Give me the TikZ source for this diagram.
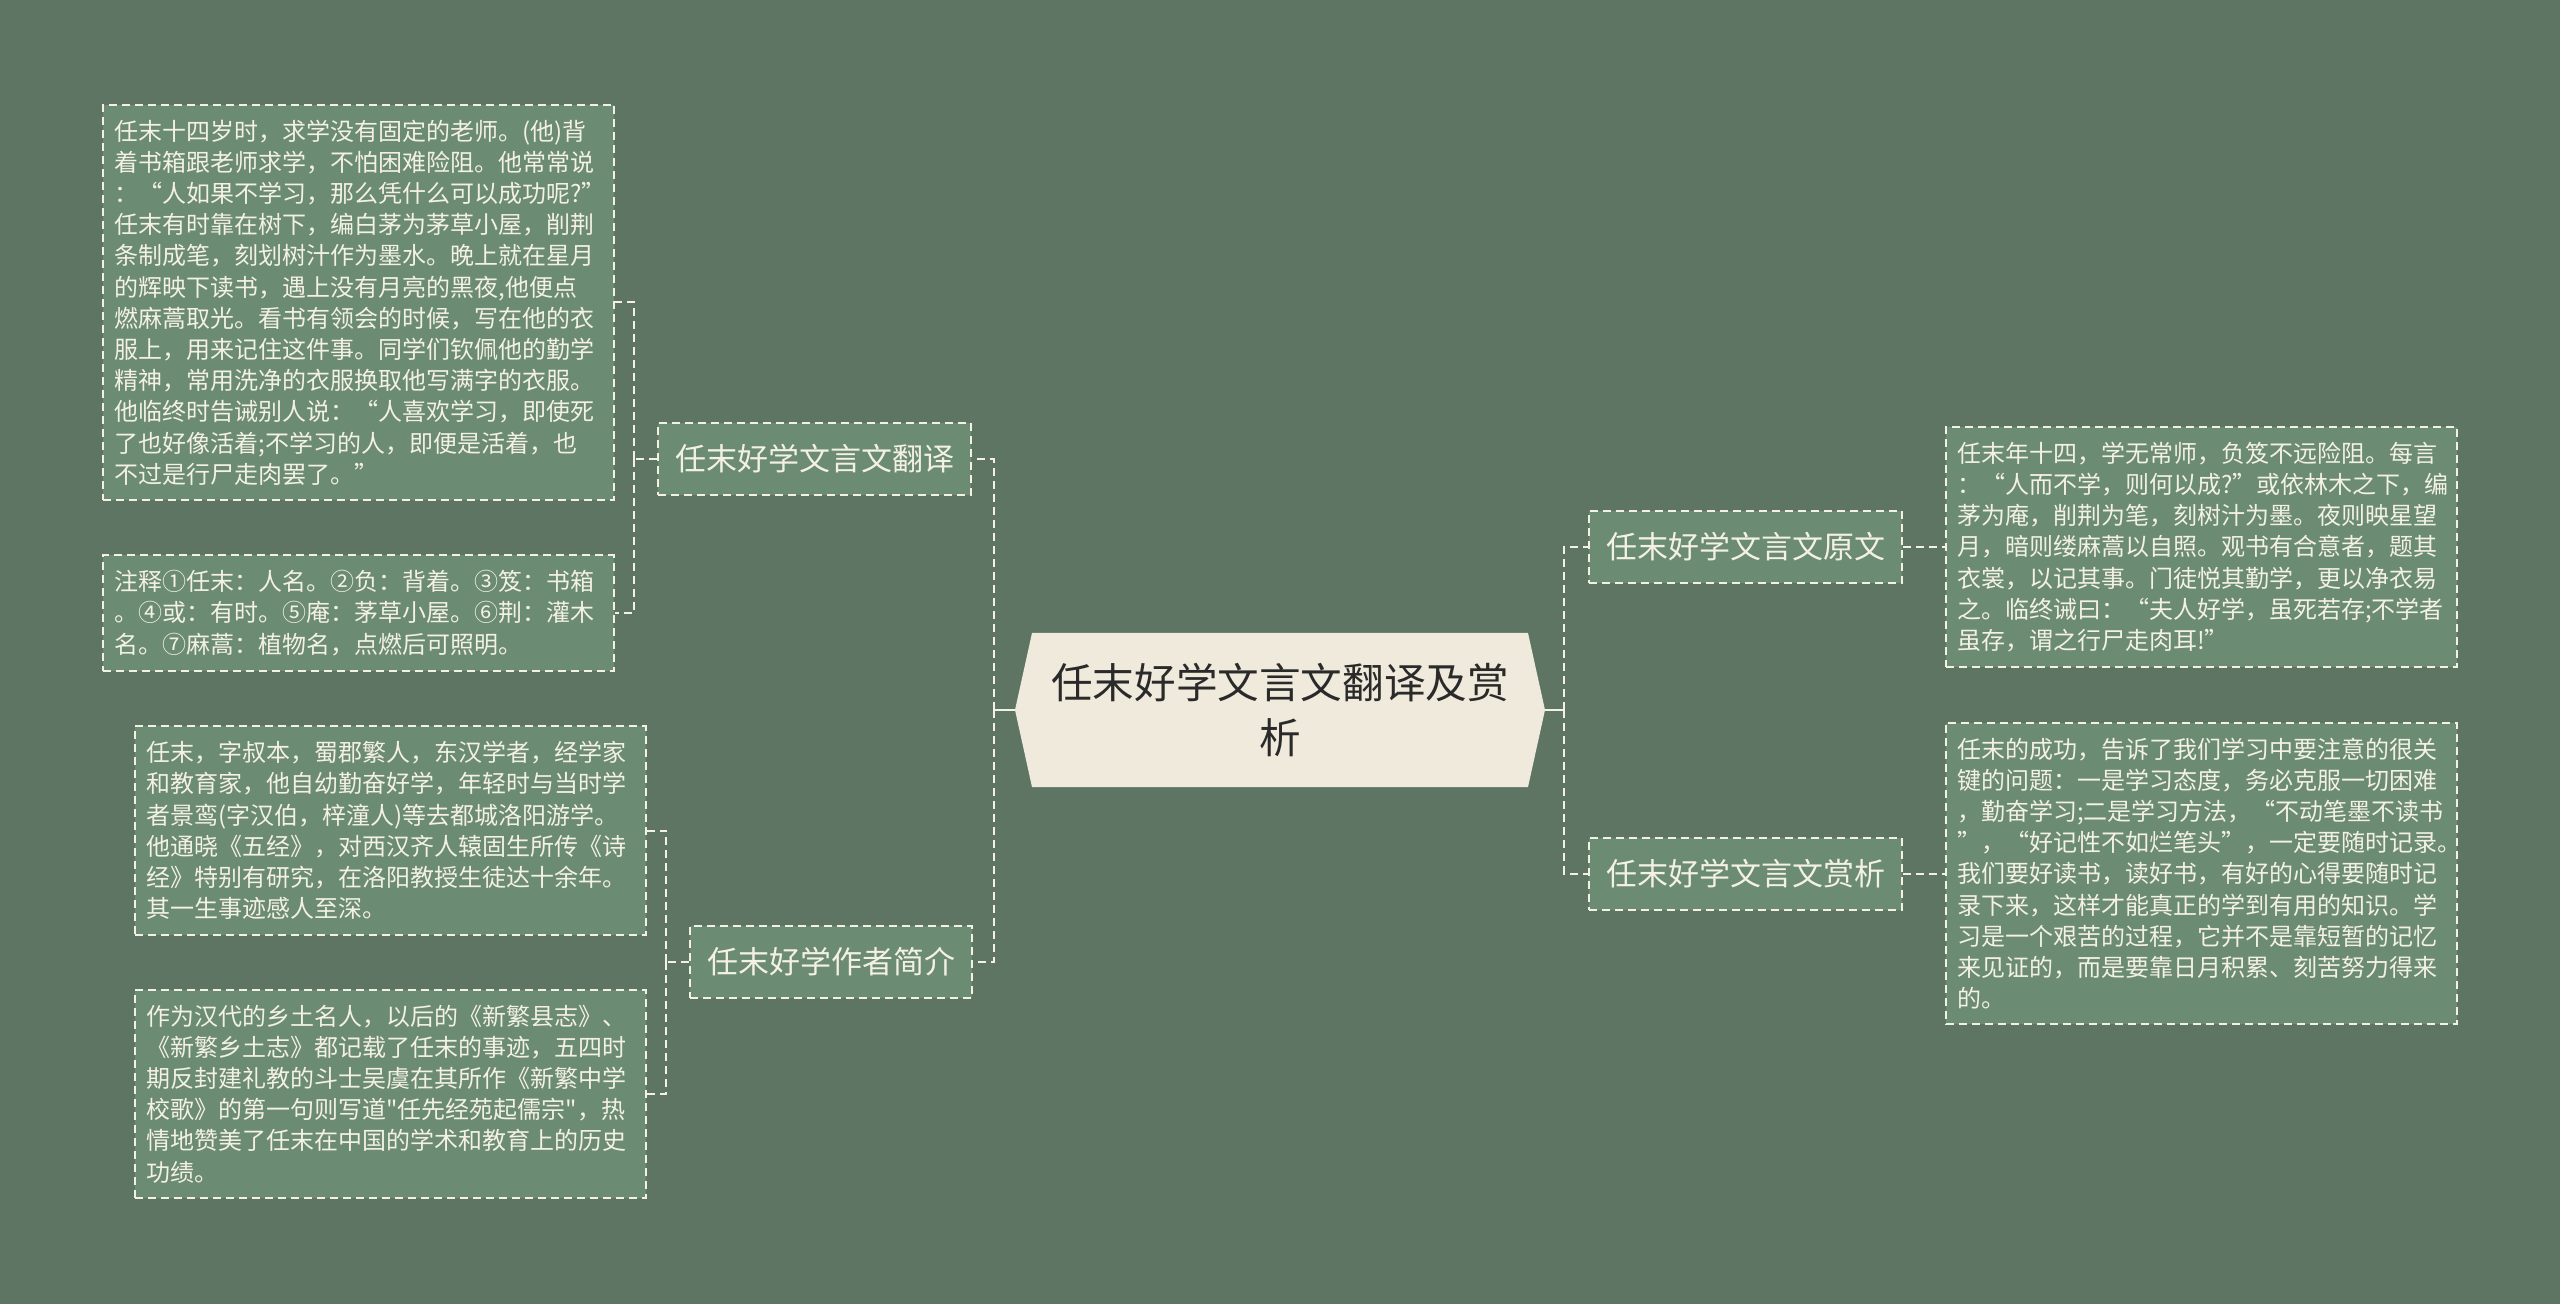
\documentclass[tikz,border=0pt]{standalone}
\usepackage{fontspec}
\setmainfont{Noto Sans CJK SC}[Ligatures=TeXOff]
\definecolor{bgc}{HTML}{5F7564}
\definecolor{leaffill}{HTML}{6C8B73}
\definecolor{ink}{HTML}{F3F0E4}
\definecolor{titlefill}{HTML}{EFEADB}
\definecolor{titleink}{HTML}{2A2A2A}
\begin{document}
\begin{tikzpicture}[x=0.5pt, y=-0.5pt,
  box/.style={draw=ink, fill=leaffill, text=ink, line width=1pt, dash pattern=on 4pt off 2.5pt},
  leaf/.style={box, text width=244pt, align=left, inner xsep=5.75pt, inner ysep=7.5pt, font=\fontsize{12pt}{15.6pt}\selectfont},
  topic/.style={box, minimum height=36pt, inner xsep=8.5pt, font=\fontsize{15.5pt}{18pt}\selectfont},
  title/.style={text=titleink, minimum width=265pt, minimum height=77pt, align=center, font=\fontsize{20.8pt}{27.8pt}\selectfont,
    path picture={\fill[titlefill] ([xshift=8.5pt]path picture bounding box.north west) -- ([xshift=-8.5pt]path picture bounding box.north east) -- (path picture bounding box.east) -- ([xshift=-8.5pt]path picture bounding box.south east) -- ([xshift=8.5pt]path picture bounding box.south west) -- (path picture bounding box.west) -- cycle;}},
  link/.style={draw=ink, line width=1pt},
  dlink/.style={link, dash pattern=on 4pt off 2.5pt}]
  \fill[bgc] (0,0) rectangle (2560,1304);
  \node[title] (title) at (1280,710) {任末好学文言文翻译及赏\\析};
  \node[topic] (trans) at (814.5,459) {任末好学文言文翻译};
  \node[topic] (author) at (831,962) {任末好学作者简介};
  \node[topic] (orig) at (1745.5,547) {任末好学文言文原文};
  \node[topic] (appr) at (1745.5,873.5) {任末好学文言文赏析};
  \node[leaf] (tbox) at (358.5,302.5) {任末十四岁时，求学没有固定的老师。(他)背\\着书箱跟老师求学，不怕困难险阻。他常常说\\：“人如果不学习，那么凭什么可以成功呢?”\\任末有时靠在树下，编白茅为茅草小屋，削荆\\条制成笔，刻划树汁作为墨水。晚上就在星月\\的辉映下读书，遇上没有月亮的黑夜,他便点\\燃麻蒿取光。看书有领会的时候，写在他的衣\\服上，用来记住这件事。同学们钦佩他的勤学\\精神，常用洗净的衣服换取他写满字的衣服。\\他临终时告诫别人说：“人喜欢学习，即使死\\了也好像活着;不学习的人，即便是活着，也\\不过是行尸走肉罢了。”};
  \node[leaf] (nbox) at (358.5,613) {注释①任末：人名。②负：背着。③笈：书箱\\。④或：有时。⑤庵：茅草小屋。⑥荆：灌木\\名。⑦麻蒿：植物名，点燃后可照明。};
  \node[leaf] (abox) at (390.5,830.5) {任末，字叔本，蜀郡繁人，东汉学者，经学家\\和教育家，他自幼勤奋好学，年轻时与当时学\\者景鸾(字汉伯，梓潼人)等去都城洛阳游学。\\他通晓《五经》，对西汉齐人辕固生所传《诗\\经》特别有研究，在洛阳教授生徒达十余年。\\其一生事迹感人至深。};
  \node[leaf] (hbox) at (390.5,1094) {作为汉代的乡土名人，以后的《新繁县志》、\\《新繁乡土志》都记载了任末的事迹，五四时\\期反封建礼教的斗士吴虞在其所作《新繁中学\\校歌》的第一句则写道"任先经苑起儒宗"，热\\情地赞美了任末在中国的学术和教育上的历史\\功绩。};
  \node[leaf] (obox) at (2201,547) {任末年十四，学无常师，负笈不远险阻。每言\\：“人而不学，则何以成?”或依林木之下，编\\茅为庵，削荆为笔，刻树汁为墨。夜则映星望\\月，暗则缕麻蒿以自照。观书有合意者，题其\\衣裳，以记其事。门徒悦其勤学，更以净衣易\\之。临终诫曰：“夫人好学，虽死若存;不学者\\虽存，谓之行尸走肉耳!”};
  \node[leaf] (sbox) at (2201,873.5) {任末的成功，告诉了我们学习中要注意的很关\\键的问题：一是学习态度，务必克服一切困难\\，勤奋学习;二是学习方法，“不动笔墨不读书\\”，“好记性不如烂笔头”，一定要随时记录。\\我们要好读书，读好书，有好的心得要随时记\\录下来，这样才能真正的学到有用的知识。学\\习是一个艰苦的过程，它并不是靠短暂的记忆\\来见证的，而是要靠日月积累、刻苦努力得来\\的。};
  \draw[link] (title.east) -- ++(19,0) coordinate (rhub);
  \draw[dlink] (rhub) |- (orig.west);
  \draw[dlink] (rhub) |- (appr.west);
  \draw[dlink] (orig.east) -- (obox.west);
  \draw[dlink] (appr.east) -- (sbox.west);
  \draw[link] (title.west) -- ++(-21,0) coordinate (lhub);
  \draw[dlink] (lhub) |- (trans.east);
  \draw[dlink] (lhub) |- (author.east);
  \draw[dlink] (trans.west) -- ++(-23,0) coordinate (thub);
  \draw[dlink] (thub) |- (tbox.east);
  \draw[dlink] (thub) |- (nbox.east);
  \draw[dlink] (author.west) -- ++(-23,0) coordinate (ahub);
  \draw[dlink] (ahub) |- (abox.east);
  \draw[dlink] (ahub) |- (hbox.east);
\end{tikzpicture}
\end{document}
